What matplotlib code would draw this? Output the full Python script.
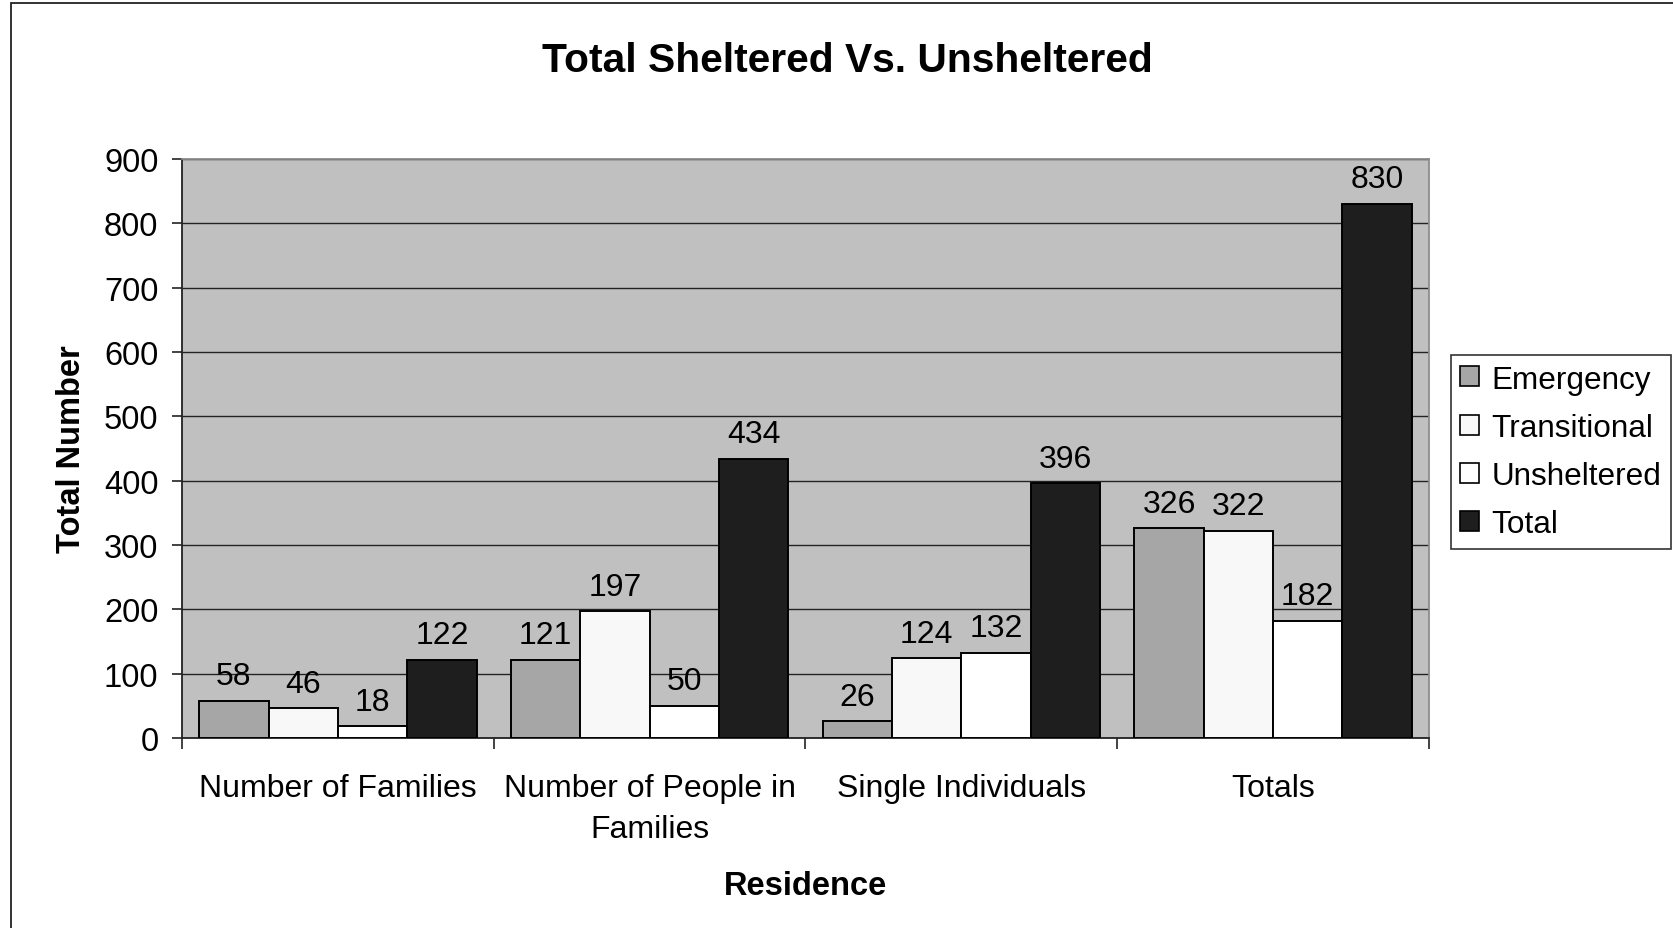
import matplotlib.pyplot as plt
import numpy as np
from matplotlib.patches import Rectangle

plt.rcParams['font.family'] = ['Liberation Sans', 'DejaVu Sans']

categories = ['Number of Families', 'Number of People in\nFamilies', 'Single Individuals', 'Totals']
series = ['Emergency', 'Transitional', 'Unsheltered', 'Total']
emergency = [58, 121, 26, 326]
transitional = [46, 197, 124, 322]
unsheltered = [18, 50, 132, 182]
total = [122, 434, 396, 830]
colors = ['#a6a6a6', '#f8f8f8', '#ffffff', '#1e1e1e']

W, H = 1673, 929
fig = plt.figure(figsize=(W / 100, H / 100), dpi=100)
# outer chart border (only left/top visible in the original)
fig.patches.append(Rectangle((11 / W, -0.05), 1.2, 1.05 - 4 / H, transform=fig.transFigure,
                             fill=False, edgecolor='#222222', linewidth=1.3))

ax = fig.add_axes([182 / W, 1 - 739 / H, (1429 - 182) / W, (739 - 160) / H])
ax.set_facecolor('#c0c0c0')

x = np.arange(len(categories)) + 0.5
bw = 0.2225
data = [emergency, transitional, unsheltered, total]
for i, (name, vals) in enumerate(zip(series, data)):
    pos = x + (i - 1.5) * bw
    bars = ax.bar(pos, vals, width=bw, color=colors[i], edgecolor='black', linewidth=1.4,
                  label=name, zorder=3)
    for b, v in zip(bars, vals):
        ax.annotate(str(v), (b.get_x() + b.get_width() / 2, v), xytext=(0, 7),
                    textcoords='offset points', ha='center', va='bottom', fontsize=23)

ax.set_xlim(0, 4)
ax.set_ylim(0, 900)
ax.set_yticks(np.arange(0, 901, 100))
ax.yaxis.grid(True, color='#222222', linewidth=1.0, zorder=1)
ax.set_axisbelow(True)
ax.tick_params(axis='y', labelsize=23.5, length=7, width=1.2, pad=10, color='#222222')
ax.set_xticks(x)
ax.set_xticklabels(categories, fontsize=23, linespacing=1.45)
ax.tick_params(axis='x', length=0, pad=25.5)
ax.set_xticks(np.arange(0, 5), minor=True)
ax.tick_params(axis='x', which='minor', length=8, width=1.2, color='#222222')

for side in ['left', 'bottom']:
    ax.spines[side].set_color('#222222')
    ax.spines[side].set_linewidth(1.3)
for side in ['top', 'right']:
    ax.spines[side].set_color('#8c8c8c')
    ax.spines[side].set_linewidth(1.3)

ax.set_ylabel('Total Number', fontsize=23.5, fontweight='bold', labelpad=12)
ax.set_xlabel('Residence', fontsize=23.5, fontweight='bold', labelpad=19)
fig.text(847 / W, 1 - 61 / H, 'Total Sheltered Vs. Unsheltered', fontsize=29.3,
         fontweight='bold', ha='center', va='center')

leg = ax.legend(loc='center left', bbox_to_anchor=(1451 / W, 1 - 453 / H),
                bbox_transform=fig.transFigure, fontsize=22.7, frameon=True, fancybox=False,
                edgecolor='black', handlelength=0.6, handleheight=0.6, handletextpad=0.38,
                labelspacing=0.58, borderpad=0.3, borderaxespad=0)
leg.get_frame().set_linewidth(1.2)
for h in leg.legend_handles:
    h.set_linewidth(1.2)

fig.savefig('out.png', dpi=100)
